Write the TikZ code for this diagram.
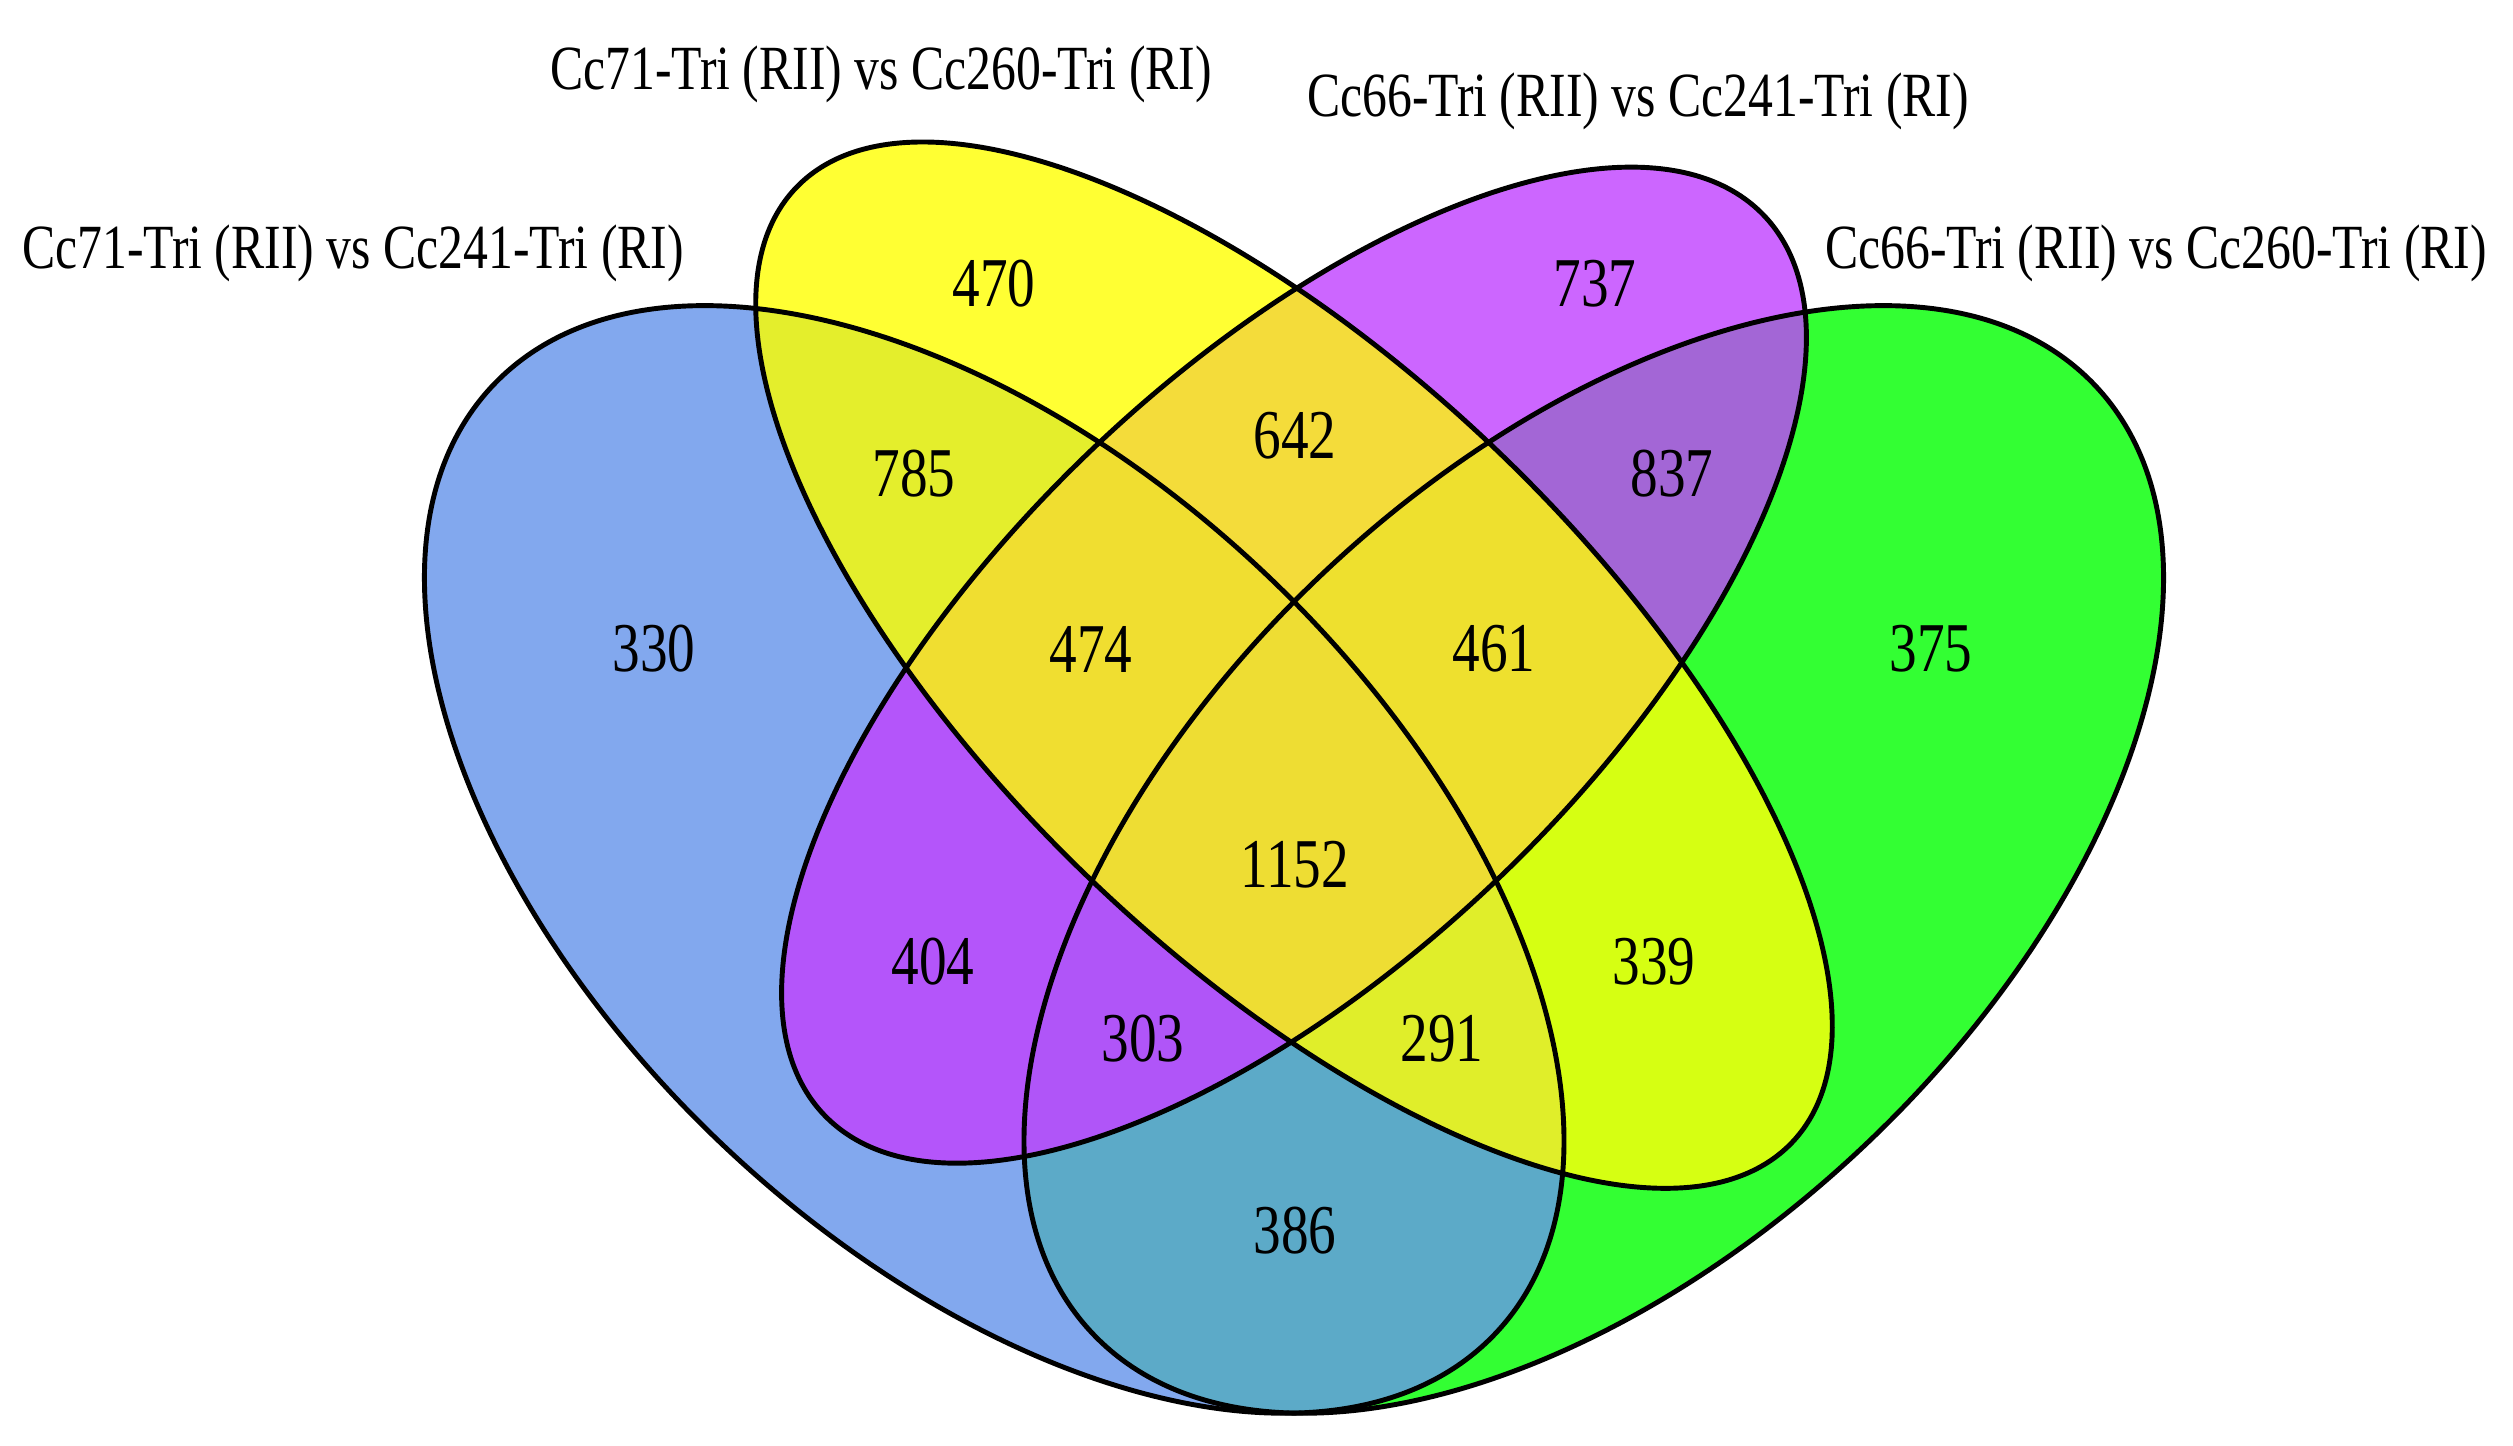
\documentclass[tikz,border=0pt]{standalone}
\usepackage{graphicx}
\usepackage{fontspec}
\setmainfont{Liberation Serif}
\definecolor{cA}{HTML}{82A8EE}
\definecolor{cB}{HTML}{FFFF33}
\definecolor{cC}{HTML}{CC66FF}
\definecolor{cD}{HTML}{33FF33}
\definecolor{cAB}{HTML}{E4EE2C}
\definecolor{cAC}{HTML}{B455FA}
\definecolor{cAD}{HTML}{5CAAC8}
\definecolor{cBC}{HTML}{F4DC3A}
\definecolor{cBD}{HTML}{D6FF12}
\definecolor{cCD}{HTML}{A366D6}
\definecolor{cABC}{HTML}{F0DE30}
\definecolor{cABD}{HTML}{E0EE2A}
\definecolor{cACD}{HTML}{B055F8}
\definecolor{cBCD}{HTML}{EEE02E}
\definecolor{cABCD}{HTML}{EEDD33}
\newcommand\clipA{\clip[rotate around={135:(0.35,0.47)}] (0.35,0.47) ellipse (0.35 and 0.20);}
\newcommand\clipD{\clip[rotate around={45:(0.65,0.47)}] (0.65,0.47) ellipse (0.35 and 0.20);}
\newcommand\clipB{\clip[rotate around={135:(0.5,0.57)}] (0.5,0.57) ellipse (0.35 and 0.15);}
\newcommand\clipC{\clip[rotate around={45:(0.5,0.57)}] (0.5,0.57) ellipse (0.33 and 0.15);}
\newcommand\fillall[1]{\fill[#1] (-1,-1) rectangle (2,2);}
\tikzset{
  num/.style={inner sep=0pt, font=\fontsize{19.9}{24}\selectfont},
  lab/.style={inner sep=0pt, font=\fontsize{17.9}{22}\selectfont},
  outline/.style={draw=black, line width=1.4pt}
}
\newcommand\nt[1]{\scalebox{0.79}[1]{#1}}
\begin{document}
\begin{tikzpicture}
\useasboundingbox (0,0) rectangle (25.13,14.45);
\fill[white] (0,0) rectangle (25.13,14.45);
\begin{scope}[shift={(2.947,-3.274)}, xscale=19.986, yscale=19.425]
  % single sets
  \begin{scope}\clipA\fillall{cA}\end{scope}
  \begin{scope}\clipB\fillall{cB}\end{scope}
  \begin{scope}\clipC\fillall{cC}\end{scope}
  \begin{scope}\clipD\fillall{cD}\end{scope}
  % pairs
  \begin{scope}\clipA\clipB\fillall{cAB}\end{scope}
  \begin{scope}\clipA\clipC\fillall{cAC}\end{scope}
  \begin{scope}\clipA\clipD\fillall{cAD}\end{scope}
  \begin{scope}\clipB\clipC\fillall{cBC}\end{scope}
  \begin{scope}\clipB\clipD\fillall{cBD}\end{scope}
  \begin{scope}\clipC\clipD\fillall{cCD}\end{scope}
  % triples
  \begin{scope}\clipA\clipB\clipC\fillall{cABC}\end{scope}
  \begin{scope}\clipA\clipB\clipD\fillall{cABD}\end{scope}
  \begin{scope}\clipA\clipC\clipD\fillall{cACD}\end{scope}
  \begin{scope}\clipB\clipC\clipD\fillall{cBCD}\end{scope}
  % all four
  \begin{scope}\clipA\clipB\clipC\clipD\fillall{cABCD}\end{scope}
  % outlines
  \draw[outline, rotate around={135:(0.35,0.47)}] (0.35,0.47) ellipse (0.35 and 0.20);
  \draw[outline, rotate around={45:(0.65,0.47)}] (0.65,0.47) ellipse (0.35 and 0.20);
  \draw[outline, rotate around={135:(0.5,0.57)}] (0.5,0.57) ellipse (0.35 and 0.15);
  \draw[outline, rotate around={45:(0.5,0.57)}] (0.5,0.57) ellipse (0.33 and 0.15);
\end{scope}
% region counts
\node[num] (n330) at (6.54,7.96) {\nt{330}};
\node[num] (n470) at (9.94,11.61) {\nt{470}};
\node[num] (n737) at (15.95,11.61) {\nt{737}};
\node[num] (n375) at (19.31,7.96) {\nt{375}};
\node[num] (n785) at (9.14,9.71) {\nt{785}};
\node[num] (n642) at (12.95,10.09) {\nt{642}};
\node[num] (n837) at (16.72,9.71) {\nt{837}};
\node[num] (n474) at (10.91,7.96) {\nt{474}};
\node[num] (n461) at (14.94,7.96) {\nt{461}};
\node[num] (n1152) at (12.95,5.80) {\nt{1152}};
\node[num] (n404) at (9.33,4.83) {\nt{404}};
\node[num] (n339) at (16.54,4.83) {\nt{339}};
\node[num] (n303) at (11.43,4.06) {\nt{303}};
\node[num] (n291) at (14.42,4.06) {\nt{291}};
\node[num] (n386) at (12.95,2.14) {\nt{386}};
% set labels
\node[lab] (l1) at (3.53,11.92) {\nt{Cc71-Tri (RII) vs Cc241-Tri (RI)}};
\node[lab] (l2) at (8.81,13.71) {\nt{Cc71-Tri (RII) vs Cc260-Tri (RI)}};
\node[lab] (l3) at (16.38,13.44) {\nt{Cc66-Tri (RII) vs Cc241-Tri (RI)}};
\node[lab] (l4) at (21.56,11.92) {\nt{Cc66-Tri (RII) vs Cc260-Tri (RI)}};
\end{tikzpicture}
\end{document}
